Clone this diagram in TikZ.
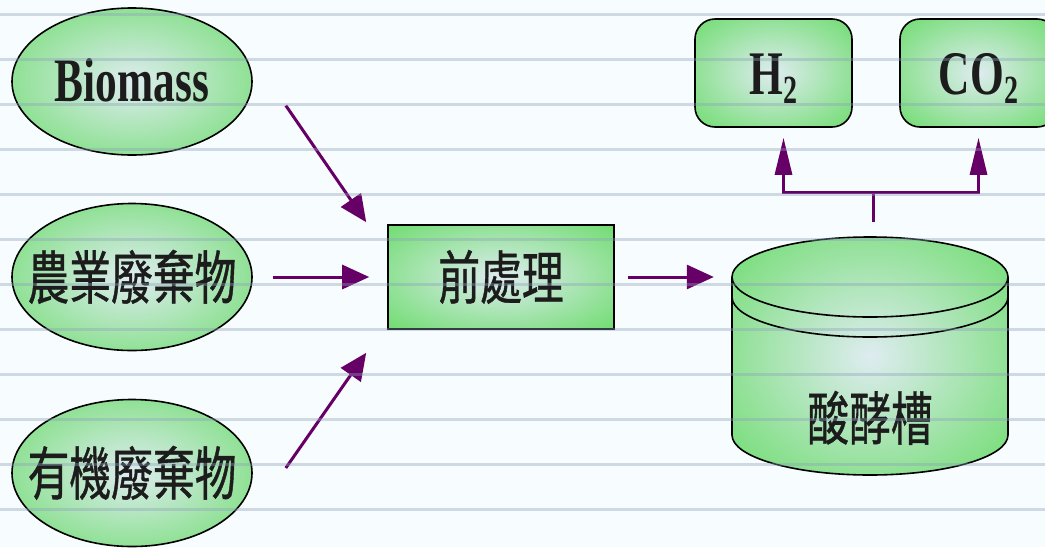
\documentclass[tikz,border=0pt]{standalone}
\usepackage{fontspec}
\setmainfont{Liberation Serif}
\newfontfamily\cjk[FakeStretch=0.72,FakeBold=0.7]{Noto Sans CJK TC}
\newfontfamily\narrowserif[FakeStretch=0.70]{Liberation Serif}
\usetikzlibrary{arrows.meta,shapes.geometric,calc}

\definecolor{paper}{RGB}{247,252,254}
\definecolor{rulecol}{RGB}{140,160,185}
\definecolor{glowin}{RGB}{222,236,240}
\definecolor{glowout}{RGB}{110,220,110}
\definecolor{flowcol}{RGB}{102,0,102}
\definecolor{ink}{RGB}{28,28,28}

% light centre fading into green
\pgfdeclareradialshading{glow}{\pgfpoint{0bp}{0bp}}{color(0bp)=(glowin); color(36bp)=(glowout); color(50bp)=(glowout)}

\newcommand{\zhsize}{\cjk\fontsize{58pt}{58pt}\selectfont}
\newcommand{\gassize}{\narrowserif\bfseries\fontsize{62pt}{62pt}\selectfont}
\newcommand{\sub}[1]{\raisebox{-9pt}{\narrowserif\bfseries\fontsize{40pt}{40pt}\selectfont #1}}

\begin{document}
\begin{tikzpicture}[x=1pt,y=-1pt,
    blob/.style={draw=black,line width=1.6pt,shading=glow,text=ink,inner sep=0pt},
    source/.style={blob,ellipse,minimum width=240pt,minimum height=147pt},
    zhlabel/.style={font=\zhsize,text=ink,text height=48pt,text depth=4pt,inner sep=0pt},
    gas/.style={blob,rounded corners=20pt,minimum width=157pt,minimum height=108pt,
      font=\gassize,text height=42pt,text depth=0pt},
    flow/.style={draw=flowcol,line width=3pt,-{Triangle[length=27pt,width=24pt]}},
    rise/.style={draw=flowcol,line width=3pt,-{Triangle[length=37pt,width=17pt]}},
    pipe/.style={draw=flowcol,line width=3pt},
    rulerline/.style={draw=rulecol,line width=3pt,opacity=0.38}]

  \fill[paper] (0,0) rectangle (1045,547);
  \useasboundingbox (0,0) rectangle (1045,547);

  % raw materials
  \node[source,font=\gassize,text height=40pt,text depth=0pt] (bio) at (132,81.5) {Biomass};
  \node[source,label={[zhlabel]center:農業廢棄物}] (farm) at (132,277) {};
  \node[source,label={[zhlabel]center:有機廢棄物}] (organic) at (132,473) {};

  % pretreatment
  \node[blob,rectangle,minimum width=226pt,minimum height=104pt,
    label={[zhlabel]center:前處理}] (prep) at (501,277) {};

  % fermentation tank
  \node[inner sep=0pt,minimum width=276pt,minimum height=238pt] (tank) at (870,356) {};
  \shade[shading=glow] (732,277) -- (732,435)
    arc[start angle=180,end angle=360,x radius=138pt,y radius=40pt] -- (1008,277)
    arc[start angle=0,end angle=180,x radius=138pt,y radius=40pt] -- cycle;
  \draw[line width=1.6pt] (732,277) -- (732,435)
    arc[start angle=180,end angle=360,x radius=138pt,y radius=40pt] -- (1008,277);
  \draw[line width=1.6pt] (870,277) ellipse[x radius=138pt,y radius=40pt];
  \draw[line width=1.6pt] (732,297) arc[start angle=180,end angle=360,x radius=138pt,y radius=40pt];
  \node[zhlabel] (tanktext) at ($(tank.center)+(0,62)$) {酸酵槽};

  % products
  \node[gas] (h2) at (773.5,73) {H\sub{2}};
  \node[gas] (co2) at (978.5,73) {CO\sub{2}};

  % connectors
  \coordinate (bioout) at ($(bio.east)+(33,24)$);
  \coordinate (orgout) at ($(organic.east)+(33,-5)$);
  \coordinate (prepin1) at ($(prep.north west)+(-21,-2)$);
  \coordinate (prepin3) at ($(prep.south west)+(-21,23)$);
  \draw[flow] (bioout) -- (prepin1);
  \draw[flow,shorten <=20pt,shorten >=18pt] (farm.east) -- (prep.west);
  \draw[flow] (orgout) -- (prepin3);
  \draw[flow,shorten <=13pt,shorten >=18pt] (prep.east) -- (prep.east -| tank.west);

  \coordinate (vent) at ($(tank.north)+(3,-15)$);
  \coordinate (split) at ($(vent)+(0,-29)$);
  \draw[pipe] (vent) -- (split);
  \draw[rise,shorten >=10pt] (split) -| ($(h2.south)+(10,0)$);
  \draw[rise,shorten >=10pt] (split) -| (co2.south);

  % ruled paper
  \foreach \y in {14,59,...,509}
    \draw[rulerline] (0,\y) -- (1045,\y);
\end{tikzpicture}
\end{document}
